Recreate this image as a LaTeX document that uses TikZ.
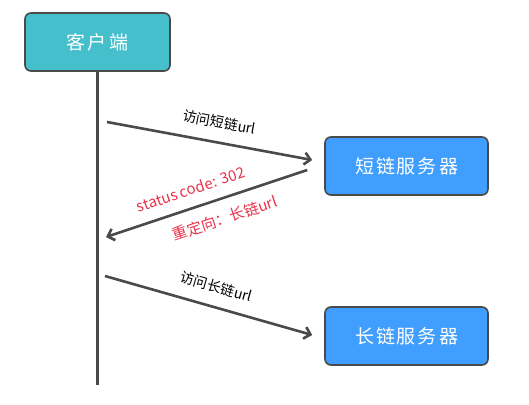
\documentclass[tikz,border=0pt]{standalone}
\usepackage{fontspec}
\setmainfont{Noto Sans CJK SC}
\usetikzlibrary{arrows.meta}
\definecolor{clientfill}{HTML}{46BFCD}
\definecolor{serverfill}{HTML}{409EFF}
\definecolor{inkgray}{HTML}{4A4A4A}
\definecolor{notered}{HTML}{E5334B}

\begin{document}
\begin{tikzpicture}[
x=1pt,y=-1pt,
box/.style={
draw=inkgray,
line width=1.6pt,
rounded corners=6pt,
minimum height=58pt,
text=white,
font=\fontsize{19}{22}\selectfont
},
msg/.style={draw=inkgray,line width=2.6pt},
lbl/.style={font=\fontsize{14}{16}\selectfont,text=black},
redlbl/.style={font=\fontsize{15}{17}\selectfont,text=notered},
>={Straight Barb[length=6pt,width=12pt]}
]
\useasboundingbox (0,0) rectangle (529,404);

\node (client)[box,fill=clientfill,minimum width=145pt] at (97.5,42){客\kern3pt 户\kern3pt 端};

\node (short)[box,fill=serverfill,minimum width=163pt] at (406.5,166){短\kern2pt 链\kern2pt 服\kern2pt 务\kern2pt 器};

\node (long)[box,fill=serverfill,minimum width=163pt] at (406.5,336){长\kern2pt 链\kern2pt 服\kern2pt 务\kern2pt 器};

% lifeline of the client
\coordinate (lifeend) at (97.5,385);
\draw[draw=inkgray,line width=2.2pt](client.south)--(lifeend);

\coordinate (ask1) at (107,122);
\coordinate (back1) at (106,237);
\coordinate (ask2) at (105,276);

\draw[->,msg](ask1)--node[lbl,sloped,above=9pt,pos=0.53]{访问短链url}([xshift=-12pt,yshift=6pt]short.west);
\draw[<-,msg](back1)--node[redlbl,sloped,above=8pt,pos=0.45]{status code: 302}
node[redlbl,sloped,below=8pt,pos=0.56]{重定向：长链url}([xshift=-17pt,yshift=-4pt]short.west);
\draw[->,msg](ask2)--node[lbl,sloped,above=9pt,pos=0.51]{访问长链url}([xshift=-12pt,yshift=1pt]long.west);

\end{tikzpicture}
\end{document}
